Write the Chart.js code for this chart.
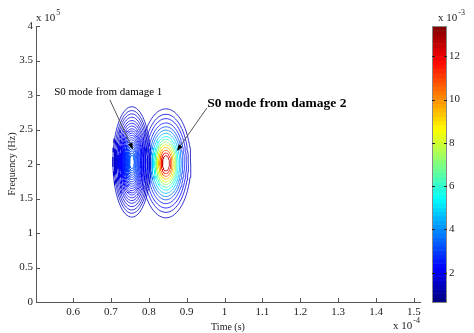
<!DOCTYPE html>
<html>
<head>
<meta charset="utf-8">
<script src="https://cdn.jsdelivr.net/npm/chart.js@4.4.1/dist/chart.umd.min.js"></script>
<style>
    html, body { margin: 0; padding: 0; background: #fff; }
</style>
</head>
<body>
<canvas id="contourChart" width="474" height="333"></canvas>
<script>
// axis ticks (time in 1e-4 s, frequency in 1e5 Hz, colour in 1e-3)
const xTicks = [0.6, 0.7, 0.8, 0.9, 1.0, 1.1, 1.2, 1.3, 1.4, 1.5];
const yTicks = [0, 0.5, 1, 1.5, 2, 2.5, 3, 3.5, 4];
const cbTicks = [2, 4, 6, 8, 10, 12];
const cbMin = 0.65, cbMax = 13.4;

// the two wave packets: centre and outer contour half sizes
const peakTime = [0.755, 0.845];
const peakFreq = [2.03, 2.01];
const outerHalfTime = [0.05, 0.066];
const outerHalfFreq = [0.80, 0.79];

// contour rings, relative size and level (x1e-3)
const ringSize1 = [1, 0.93, 0.87, 0.81, 0.75, 0.70, 0.65, 0.60, 0.56, 0.52, 0.48, 0.44, 0.40, 0.36, 0.32, 0.28, 0.24, 0.20, 0.16, 0.12];
const ringLevel1 = [1.5, 1.6, 1.7, 1.8, 1.9, 2.0, 2.1, 2.2, 2.3, 2.4, 2.5, 2.6, 2.7, 2.8, 2.9, 3.0, 3.1, 3.2, 3.3, 3.4];
const ringSize2 = [1, 0.90, 0.82, 0.74, 0.67, 0.61, 0.55, 0.49, 0.44, 0.39, 0.34, 0.29, 0.24, 0.19, 0.14];
const ringLevel2 = [1.5, 1.8, 2.2, 2.6, 3.1, 3.8, 4.6, 5.4, 6.3, 7.3, 8.3, 9.4, 10.5, 11.6, 12.6];

// annotations (data coords)
const noteText = ['S0 mode from damage 1', 'S0 mode from damage 2'];
const noteBold = [false, true];
const noteAt = [[0.55, 3.04], [0.954, 2.87]];
const arrowFrom = [[0.697, 2.93], [0.953, 2.81]];
const arrowTo = [[0.758, 2.21], [0.874, 2.19]];

const serif = '"Liberation Serif", "DejaVu Serif", serif';

function jet(v) {
    const t = (v - cbMin) / (cbMax - cbMin);
    const c = k => Math.round(255 * Math.max(0, Math.min(1, 1.5 - Math.abs(4 * t - k))));
    return 'rgb(' + c(3) + ',' + c(2) + ',' + c(1) + ')';
}

function ring(p, s) {
    const pts = [];
    for (let k = 0; k <= 72; k++) {
        const a = 2 * Math.PI * k / 72;
        pts.push({ x: peakTime[p] + s * outerHalfTime[p] * Math.cos(a), y: peakFreq[p] + s * outerHalfFreq[p] * Math.sin(a) });
    }
    return pts;
}

const datasets = [];
ringSize1.forEach((s, i) => datasets.push({ data: ring(0, s), borderColor: jet(ringLevel1[i]) }));
ringSize2.forEach((s, i) => datasets.push({ data: ring(1, s), borderColor: jet(ringLevel2[i]) }));
datasets.forEach(d => { d.showLine = true; d.pointRadius = 0; d.borderWidth = 0.8; d.fill = false; });

function powText(ctx, x, y, exp) {
    ctx.font = '11px ' + serif;
    ctx.textAlign = 'left';
    ctx.textBaseline = 'middle';
    ctx.fillText('x 10', x, y);
    const w = ctx.measureText('x 10').width;
    ctx.font = '8px ' + serif;
    ctx.fillText(exp, x + w + 1, y - 5);
}

const extras = {
    id: 'extras',
    afterDraw(chart) {
        const ctx = chart.ctx;
        const { left, right, top, bottom } = chart.chartArea;
        const xs = chart.scales.x, ys = chart.scales.y, cb = chart.scales.cb;
        ctx.save();
        ctx.strokeStyle = '#555';
        ctx.lineWidth = 1;
        ctx.beginPath();
        xTicks.forEach(v => {
            const px = Math.round(xs.getPixelForValue(v)) + 0.5;
            ctx.moveTo(px, bottom); ctx.lineTo(px, bottom - 4);
        });
        yTicks.forEach(v => {
            const py = Math.round(ys.getPixelForValue(v)) + 0.5;
            ctx.moveTo(left, py); ctx.lineTo(left + 4, py);
        });
        ctx.stroke();

        ctx.fillStyle = '#222';
        powText(ctx, left, top - 8, '5');
        powText(ctx, right - 27, bottom + 24, '-4');

        // colour bar
        const x0 = right + 12, w = 15;
        const n = 64;
        for (let i = 0; i < n; i++) {
            const v0 = cbMin + (cbMax - cbMin) * i / n;
            const v1 = cbMin + (cbMax - cbMin) * (i + 1) / n;
            const y0 = cb.getPixelForValue(v0), y1 = cb.getPixelForValue(v1);
            ctx.fillStyle = jet((v0 + v1) / 2);
            ctx.fillRect(x0, y1, w, y0 - y1 + 0.5);
        }
        ctx.strokeStyle = '#888';
        ctx.strokeRect(x0 + 0.5, cb.top + 0.5, w - 1, cb.bottom - cb.top);
        ctx.strokeStyle = '#222';
        ctx.beginPath();
        cbTicks.forEach(v => {
            const py = Math.round(cb.getPixelForValue(v)) + 0.5;
            ctx.moveTo(x0, py); ctx.lineTo(x0 + 3, py);
            ctx.moveTo(x0 + w, py); ctx.lineTo(x0 + w - 3, py);
        });
        ctx.stroke();
        ctx.fillStyle = '#222';
        ctx.font = '11px ' + serif;
        ctx.textAlign = 'left';
        ctx.textBaseline = 'middle';
        cbTicks.forEach(v => ctx.fillText(String(v), x0 + w + 2, cb.getPixelForValue(v)));
        powText(ctx, x0 + 6, top - 8, '-3');

        // annotations with arrows
        noteText.forEach((t, i) => {
            ctx.font = (noteBold[i] ? 'bold 13.5px ' : '11px ') + serif;
            ctx.fillStyle = '#000';
            ctx.textAlign = 'left';
            ctx.textBaseline = 'middle';
            ctx.fillText(t, xs.getPixelForValue(noteAt[i][0]), ys.getPixelForValue(noteAt[i][1]));
            const ax = xs.getPixelForValue(arrowFrom[i][0]), ay = ys.getPixelForValue(arrowFrom[i][1]);
            const bx = xs.getPixelForValue(arrowTo[i][0]), by = ys.getPixelForValue(arrowTo[i][1]);
            const ang = Math.atan2(by - ay, bx - ax);
            ctx.strokeStyle = '#555';
            ctx.beginPath();
            ctx.moveTo(ax, ay); ctx.lineTo(bx - 5 * Math.cos(ang), by - 5 * Math.sin(ang));
            ctx.stroke();
            ctx.fillStyle = '#000';
            ctx.beginPath();
            ctx.moveTo(bx, by);
            ctx.lineTo(bx - 7 * Math.cos(ang - 0.35), by - 7 * Math.sin(ang - 0.35));
            ctx.lineTo(bx - 7 * Math.cos(ang + 0.35), by - 7 * Math.sin(ang + 0.35));
            ctx.closePath();
            ctx.fill();
        });
        ctx.restore();
    }
};

new Chart(document.getElementById('contourChart').getContext('2d'), {
    type: 'scatter',
    data: { datasets: datasets },
    options: {
        responsive: false,
        animation: false,
        layout: { padding: { left: 4, right: 54, top: 26, bottom: 0 } },
        plugins: { legend: { display: false }, tooltip: { enabled: false } },
        scales: {
            x: {
                type: 'linear',
                min: 0.502,
                max: 1.516,
                afterBuildTicks: s => { s.ticks = xTicks.map(v => ({ value: v })); },
                afterFit: s => { s.height = 31; },
                ticks: { font: { family: serif, size: 11 }, color: '#222', padding: 4, maxRotation: 0, callback: v => String(+v.toFixed(1)) },
                grid: { drawOnChartArea: false, drawTicks: false },
                border: { color: '#555' },
                title: { display: true, text: 'Time (s)', font: { family: serif, size: 10 }, color: '#222', padding: { top: 1, bottom: 0 } }
            },
            y: {
                type: 'linear',
                min: 0,
                max: 4,
                afterBuildTicks: s => { s.ticks = yTicks.map(v => ({ value: v })); },
                afterFit: s => { s.width = 32; },
                ticks: { font: { family: serif, size: 11 }, color: '#222', padding: 3, callback: v => String(+v.toFixed(1)) },
                grid: { drawOnChartArea: false, drawTicks: false },
                border: { color: '#555' },
                title: { display: true, text: 'Frequency (Hz)', font: { family: serif, size: 10 }, color: '#222', padding: { top: 2, bottom: 2 } }
            },
            cb: {
                type: 'linear',
                position: 'right',
                display: false,
                min: cbMin,
                max: cbMax
            }
        }
    },
    plugins: [extras]
});
</script>
</body>
</html>
